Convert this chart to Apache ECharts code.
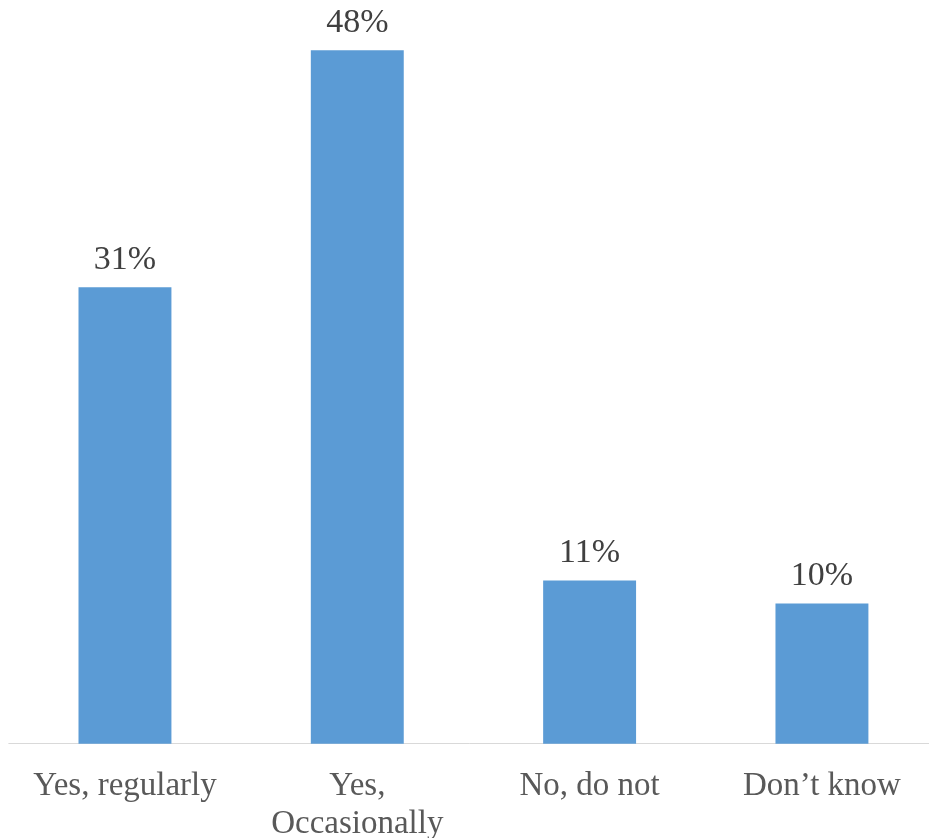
<!DOCTYPE html>
<html>
<head>
<meta charset="utf-8">
<script src="https://cdn.jsdelivr.net/npm/echarts@6/dist/echarts.min.js"></script>
<style>
html,body{margin:0;padding:0;background:#fff;}
#chart{width:929px;height:838px;}
</style>
</head>
<body>
<div id="chart"></div>
<script>
const categories = ["Yes, regularly", "Yes,\nOccasionally", "No, do not", "Don\u2019t know"];
const values = [31.6, 48.0, 11.3, 9.7];
const valueLabels = ["31%", "48%", "11%", "10%"];

const chart = echarts.init(document.getElementById('chart'), null, {renderer: 'canvas'});
chart.setOption({
  animation: false,
  backgroundColor: '#ffffff',
  grid: {left: 8.8, right: -9.1, top: 50.3, bottom: 94.3, containLabel: false, outerBoundsMode: 'none'},
  xAxis: {
    type: 'category',
    data: categories,
    axisLine: {show: true, lineStyle: {color: '#d9d9d9', width: 1}},
    axisTick: {show: false},
    axisLabel: {
      interval: 0,
      color: '#595959',
      fontFamily: 'Liberation Serif',
      fontSize: 33,
      lineHeight: 38,
      margin: 24
    }
  },
  yAxis: {
    type: 'value',
    min: 0,
    max: 48,
    show: false,
    splitLine: {show: false}
  },
  series: [{
    type: 'bar',
    data: values,
    barWidth: '40%',
    itemStyle: {color: '#5b9bd5'},
    label: {
      show: true,
      position: 'top',
      distance: 10,
      color: '#404040',
      fontFamily: 'Liberation Serif',
      fontSize: 34,
      formatter: p => valueLabels[p.dataIndex]
    }
  }]
});
</script>
</body>
</html>
